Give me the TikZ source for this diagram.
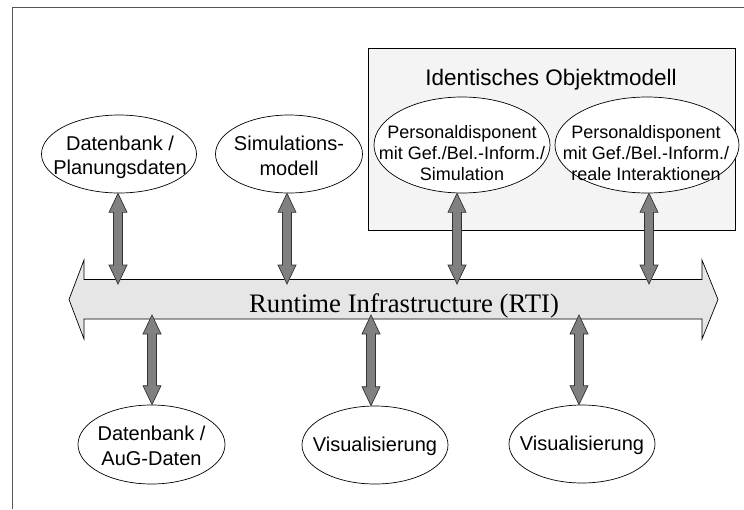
\documentclass[tikz,border=0pt]{standalone}
\usepackage{fontspec}
\setmainfont{Liberation Sans}
\newfontfamily\rtifont{Liberation Serif}
\usetikzlibrary{shapes.geometric,calc}
\definecolor{arrowgray}{HTML}{808080}
\definecolor{rtigray}{HTML}{E6E6E6}
\definecolor{boxgray}{HTML}{F4F4F4}
\definecolor{framegray}{HTML}{555555}
\tikzset{
  oval/.style={draw=black, line width=0.7pt, fill=white, ellipse, inner sep=0pt},
  ovaltext/.style={align=center, inner sep=0pt},
  barrow/.style={draw=black!80, line width=0.7pt, fill=arrowgray, line join=miter,
    to path={let \p1=(\tikztostart), \p2=(\tikztotarget), \n1={19*sign(\y1-\y2)} in
      (\x2,\y1) -- (\x2+9pt,\y1-\n1*1pt) -- (\x2+4.5pt,\y1-\n1*1pt)
      -- (\x2+4.5pt,\y2+\n1*1pt) -- (\x2+9pt,\y2+\n1*1pt) -- (\x2,\y2)
      -- (\x2-9pt,\y2+\n1*1pt) -- (\x2-4.5pt,\y2+\n1*1pt)
      -- (\x2-4.5pt,\y1-\n1*1pt) -- (\x2-9pt,\y1-\n1*1pt) -- cycle}},
  rtibar/.style={draw=black, line width=0.7pt, fill=rtigray},
  modelbox/.style={draw=black, line width=0.8pt, fill=boxgray},
}
\begin{document}
\begin{tikzpicture}[x=1pt,y=-1pt]
\useasboundingbox (0,0) rectangle (744,509);
% frame
\draw[framegray, line width=1pt] (12,509) -- (12,7) -- (744,7);
% object model box
\filldraw[modelbox] (368,48) rectangle (735,230);
\node[font=\fontsize{22.5}{27}\selectfont, anchor=base] (title) at (551,85) {Identisches Objektmodell};
% RTI bar
\filldraw[rtibar] (69,299.5) -- (84,260) -- (84,279.5) -- (702,279.5) -- (702,260)
  -- (718,299.5) -- (702,339) -- (702,319) -- (84,319) -- (84,339) -- cycle;
\node[font=\rtifont\fontsize{26.7}{32}\selectfont, anchor=base] (rti) at (404,312) {Runtime Infrastructure (RTI)};
% RTI connection points
\coordinate (r1) at (118,284);
\coordinate (r2) at (287,284);
\coordinate (r3) at (457,284);
\coordinate (r4) at (649,284);
\coordinate (r5) at (152,315);
\coordinate (r6) at (371,315);
\coordinate (r7) at (579,315);
% upper ellipses
\node[oval, minimum width=155pt, minimum height=78pt] (e1) at (119,154) {};
\node[ovaltext, font=\fontsize{20}{24.5}\selectfont] (t1) at (120,157.5) {Datenbank /\\Planungsdaten};
\node[oval, minimum width=147pt, minimum height=78pt] (e2) at (289,154) {};
\node[ovaltext, font=\fontsize{20}{25}\selectfont] (t2) at (289,155.5) {Simulations-\\modell};
\node[oval, minimum width=176pt, minimum height=96pt] (e3) at (462,145) {};
\node[ovaltext, font=\fontsize{18}{21}\selectfont] (t3) at (462,153.5) {Personaldisponent\\mit Gef./Bel.-Inform./\\Simulation};
\node[oval, minimum width=184pt, minimum height=96pt] (e4) at (647,145) {};
\node[ovaltext, font=\fontsize{18}{21}\selectfont] (t4) at (646,153.5) {Personaldisponent\\mit Gef./Bel.-Inform./\\reale Interaktionen};
% lower ellipses
\node[oval, minimum width=147pt, minimum height=79pt] (e5) at (151.5,444.5) {};
\node[ovaltext, font=\fontsize{20}{25}\selectfont] (t5) at (151.5,446) {Datenbank /\\AuG-Daten};
\node[oval, minimum width=146pt, minimum height=78pt] (e6) at (375,445) {};
\node[ovaltext, font=\fontsize{20}{24}\selectfont] (t6) at (375,446.5) {Visualisierung};
\node[oval, minimum width=146pt, minimum height=78pt] (e7) at (582,444) {};
\node[ovaltext, font=\fontsize{20}{24}\selectfont] (t7) at (582,445.5) {Visualisierung};
% connectors
\draw[barrow] (e1.south) to (r1);
\draw[barrow] (e2.south) to (r2);
\draw[barrow] (e3.south) to (r3);
\draw[barrow] (e4.south) to (r4);
\draw[barrow] (e5.north) to (r5);
\draw[barrow] (e6.north) to (r6);
\draw[barrow] (e7.north) to (r7);
\end{tikzpicture}
\end{document}
